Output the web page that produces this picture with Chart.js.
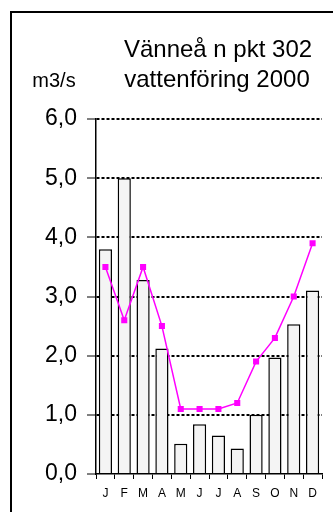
<!DOCTYPE html>
<html>
<head>
<meta charset="utf-8">
<script src="https://cdn.jsdelivr.net/npm/chart.js@4/dist/chart.umd.min.js"></script>
<style>
  html, body { margin: 0; padding: 0; background: #fff; overflow: hidden; width: 333px; height: 512px; }
  #frame { position: absolute; left: 10px; top: 11px; width: 360px; height: 540px; border: 2px solid #000; box-sizing: border-box; }
  #wrap { position: absolute; left: 0; top: 0; width: 333px; height: 512px; }
</style>
</head>
<body>
<div id="frame"></div>
<div id="wrap"><canvas id="c" width="333" height="512"></canvas></div>
<script>
// Monthly flow, Vänneå n pkt 302, year 2000 (m3/s)
const months = ['J', 'F', 'M', 'A', 'M', 'J', 'J', 'A', 'S', 'O', 'N', 'D'];
const flow2000 = [3.8, 5.0, 3.28, 2.12, 0.51, 0.84, 0.65, 0.43, 1.0, 1.97, 2.53, 3.1];
const flowMean = [3.5, 2.6, 3.5, 2.5, 1.1, 1.1, 1.1, 1.2, 1.9, 2.3, 3.0, 3.9];
const yTicks = [0, 1, 2, 3, 4, 5, 6];
const titleLines = ['Vänneå n pkt 302', 'vattenföring 2000'];
const unitLabel = 'm3/s';

const FONT = '"Liberation Sans", Arial, sans-serif';

// Title and unit text drawn above the plot area
const headerText = {
  id: 'headerText',
  afterDraw(chart) {
    const ctx = chart.ctx;
    ctx.save();
    ctx.fillStyle = '#000';
    ctx.textBaseline = 'alphabetic';
    ctx.textAlign = 'center';
    ctx.font = '24px ' + FONT;
    ctx.fillText(titleLines[0], 218, 57);
    ctx.fillText(titleLines[1], 217, 87);
    ctx.font = '20px ' + FONT;
    ctx.fillText(unitLabel, 54, 87);
    ctx.restore();
  }
};

new Chart(document.getElementById('c'), {
  data: {
    labels: months,
    datasets: [
      {
        type: 'line',
        data: flowMean,
        borderColor: '#ff00ff',
        backgroundColor: '#ff00ff',
        borderWidth: 1.5,
        pointStyle: 'rect',
        pointRadius: 4.3,
        pointBorderWidth: 0,
        tension: 0,
        order: 0
      },
      {
        type: 'bar',
        data: flow2000,
        backgroundColor: '#f4f4f4',
        borderColor: '#000',
        borderWidth: 1.5,
        barPercentage: 0.7,
        categoryPercentage: 1.0,
        order: 1
      }
    ]
  },
  options: {
    responsive: false,
    animation: false,
    devicePixelRatio: 1,
    layout: { padding: { top: 119, right: 11, bottom: 0, left: 0 } },
    plugins: {
      legend: { display: false },
      title: { display: false },
      tooltip: { enabled: false }
    },
    scales: {
      x: {
        type: 'category',
        afterFit(scale) { scale.height = 38; },
        grid: {
          display: true,
          drawOnChartArea: false,
          drawTicks: true,
          tickLength: 5,
          tickColor: '#000',
          tickWidth: 1,
          offset: true
        },
        border: { display: true, color: '#000', width: 1.5 },
        ticks: {
          color: '#000',
          padding: 7,
          maxRotation: 0,
          autoSkip: false,
          font: { family: FONT, size: 12 }
        }
      },
      y: {
        type: 'linear',
        min: 0,
        max: 6,
        afterFit(scale) { scale.width = 96; },
        afterBuildTicks(scale) { scale.ticks = yTicks.map(v => ({ value: v })); },
        grid: {
          drawTicks: true,
          tickLength: 9,
          tickColor: '#000',
          tickWidth: 1,
          lineWidth: 2,
          color: ctx => (ctx.tick && ctx.tick.value === 0) ? 'rgba(0,0,0,0)' : '#000'
        },
        border: { display: true, color: '#000', width: 1.5, dash: [3, 2] },
        ticks: {
          color: '#000',
          padding: 10,
          font: { family: FONT, size: 23 },
          callback: v => v.toFixed(1).replace('.', ',')
        }
      }
    }
  },
  plugins: [headerText]
});
</script>
</body>
</html>
